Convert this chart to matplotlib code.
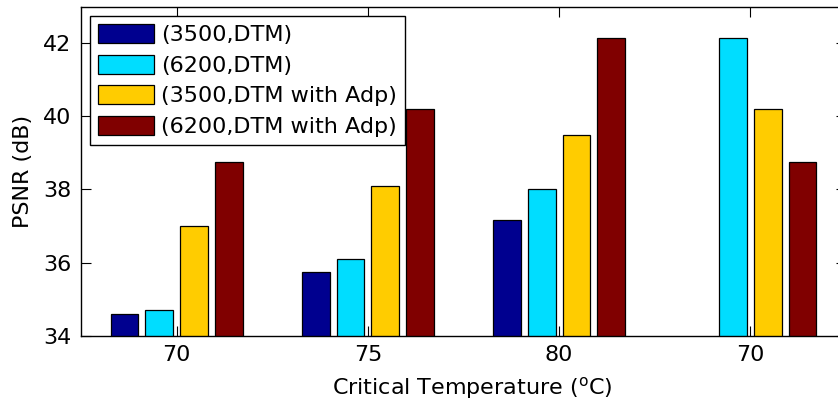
import numpy as np
import matplotlib
matplotlib.use("Agg")
import matplotlib.pyplot as plt

plt.rcParams['font.family'] = ['DejaVu Sans']

# data
groups = ["70", "75", "80", "70"]
series = ["(3500,DTM)", "(6200,DTM)", "(3500,DTM with Adp)", "(6200,DTM with Adp)"]
psnr_3500_dtm = [34.6, 35.75, 37.15, 0]
psnr_6200_dtm = [34.7, 36.1, 38.0, 42.15]
psnr_3500_adp = [37.0, 38.1, 39.5, 40.2]
psnr_6200_adp = [38.75, 40.2, 42.15, 38.75]
colors = ["#00008F", "#00DDFF", "#FFCC00", "#800000"]

fig = plt.figure(figsize=(8.38, 4.08), dpi=100)
# axes run past the right border, as in the cropped original
ax = fig.add_axes([81 / 838, 72.3 / 408, 765 / 838, 329.2 / 408])

x = np.arange(1, len(groups) + 1)
slot = 0.727 / 4
width = 0.8 * slot
values = [psnr_3500_dtm, psnr_6200_dtm, psnr_3500_adp, psnr_6200_adp]
for i, (vals, lab, c) in enumerate(zip(values, series, colors)):
    ax.bar(x + (i - 1.5) * slot, vals, width, color=c, edgecolor="black",
           linewidth=0.9, label=lab)

ax.set_xlim(0.5, 4.5)
ax.set_ylim(34, 43)
ax.set_yticks([34, 36, 38, 40, 42])
ax.set_xticks(x)
ax.set_xticklabels(groups)
ax.tick_params(direction="in", length=7, width=0.8, top=True, right=True,
               labelsize=16, pad=7)
for s in ax.spines.values():
    s.set_linewidth(1.0)

ax.set_ylabel("PSNR (dB)", fontsize=16)
ax.yaxis.set_label_coords((33 - 81) / 765, 0.5)
ax.set_xlabel(r"Critical Temperature ($^\mathrm{o}$C)", fontsize=16)
ax.xaxis.set_label_coords((472 - 81) / 765, -0.12)

leg = ax.legend(loc="upper left", bbox_to_anchor=(0.0118, 0.972), borderaxespad=0,
                fontsize=16, fancybox=False, edgecolor="black", framealpha=1,
                handlelength=2.5, handleheight=0.95, labelspacing=0.42,
                handletextpad=0.3, borderpad=0.38)
leg.get_frame().set_linewidth(1.0)

fig.savefig("out.png", dpi=100)
